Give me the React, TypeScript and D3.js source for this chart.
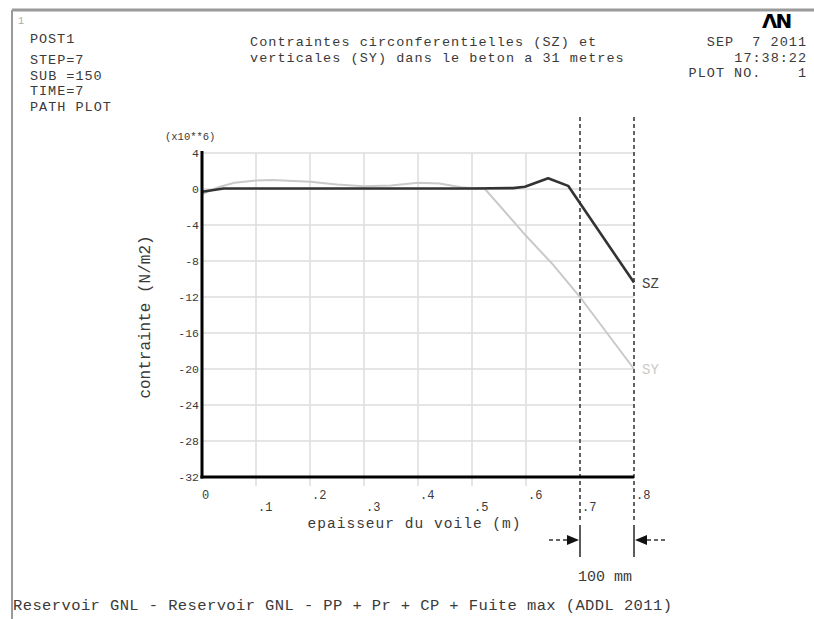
import React from "react";
import * as d3 from "d3";

const szX = [0, 0.04, 0.1, 0.2, 0.3, 0.4, 0.5, 0.576, 0.598, 0.641, 0.678, 0.8];
const szY = [-0.3, 0.05, 0.05, 0.05, 0.05, 0.05, 0.05, 0.1, 0.25, 1.2, 0.35, -10.4];
const syX = [0, 0.03, 0.06, 0.1, 0.13, 0.2, 0.25, 0.3, 0.35, 0.4, 0.44, 0.48, 0.524, 0.6, 0.65, 0.7, 0.8];
const syY = [-0.6, 0.2, 0.7, 0.95, 1.0, 0.8, 0.5, 0.3, 0.4, 0.7, 0.6, 0.2, 0, -5.2, -8.4, -12, -20];
const xTicks = [0, 0.1, 0.2, 0.3, 0.4, 0.5, 0.6, 0.7, 0.8];
const xTickLabels = ["0", ".1", ".2", ".3", ".4", ".5", ".6", ".7", ".8"];
const yTicks = [4, 0, -4, -8, -12, -16, -20, -24, -28, -32];
const headerLeft = ["POST1", "STEP=7", "SUB =150", "TIME=7", "PATH PLOT"];
const titleLines = ["Contraintes circonferentielles (SZ) et", "verticales (SY) dans le beton a 31 metres"];
const headerRight = ["SEP  7 2011", "17:38:22", "PLOT NO.    1"];
const markers = [0.7, 0.8];
const footer = "Reservoir GNL - Reservoir GNL - PP + Pr + CP + Fuite max (ADDL 2011)";

const FONT = "'Liberation Mono', 'Courier New', monospace";
const TXT = "#3a3a3a";
const CW = 9.15;

export default function App() {
  const x = d3.scaleLinear().domain([0, 0.8]).range([202, 634]);
  const y = d3.scaleLinear().domain([-32, 4]).range([477, 153]);
  const line = d3.line<[number, number]>().x((d) => x(d[0])).y((d) => y(d[1]));
  const sz: [number, number][] = szX.map((v, i) => [v, szY[i]]);
  const sy: [number, number][] = syX.map((v, i) => [v, syY[i]]);
  const leftHeaderY = [43, 64, 79.5, 95, 110.5];

  return (
    <svg width={814} height={619} style={{ position: "absolute", left: 0, top: 0, background: "#fff" }}>
      <rect x={0} y={0} width={814} height={619} fill="#fff" />
      {/* frame */}
      <line x1={12} y1={10} x2={814} y2={10} stroke="#9a9a9a" strokeWidth={3} />
      <line x1={12} y1={10} x2={12} y2={619} stroke="#9a9a9a" strokeWidth={2} />
      <text x={18} y={24} fontFamily={FONT} fontSize={10} fill="#aaa">1</text>

      {/* header left */}
      {headerLeft.map((t, i) => (
        <text key={t} x={30} y={leftHeaderY[i]} fontFamily={FONT} fontSize={13.5} fill={TXT}
          textLength={t.length * CW - 1.5} lengthAdjust="spacing" style={{ whiteSpace: "pre" }}>{t}</text>
      ))}
      {/* title */}
      {titleLines.map((t, i) => (
        <text key={t} x={250} y={46 + i * 15.5} fontFamily={FONT} fontSize={13.5} fill={TXT}
          textLength={t.length * CW - 1.5} lengthAdjust="spacing">{t}</text>
      ))}
      {/* header right */}
      {headerRight.map((t, i) => (
        <text key={t} x={806 - (t.length * CW - 1.5)} y={46 + i * 15.5} fontFamily={FONT} fontSize={13.5} fill={TXT}
          textLength={t.length * CW - 1.5} lengthAdjust="spacing" style={{ whiteSpace: "pre" }}>{t}</text>
      ))}
      <text x={762} y={28} fontFamily="'DejaVu Sans', sans-serif" fontWeight="bold" fontSize={20} fill="#000" letterSpacing={-2}>ΛN</text>

      {/* grid */}
      {yTicks.filter((t) => t !== -32).map((t) => (
        <line key={"h" + t} x1={x(0)} x2={x(0.8)} y1={y(t)} y2={y(t)} stroke="#dcdcdc" strokeWidth={1.5} />
      ))}
      {xTicks.filter((t) => t > 0 && t < 0.65).map((t) => (
        <line key={"v" + t} x1={x(t)} x2={x(t)} y1={y(4)} y2={y(-32) + 9} stroke="#dcdcdc" strokeWidth={1.5} />
      ))}

      {/* marker dashed lines */}
      {markers.map((m) => (
        <g key={"m" + m}>
          <line x1={x(m)} x2={x(m)} y1={117} y2={522} stroke="#222" strokeWidth={1.4} strokeDasharray="4,3" />
          <line x1={x(m)} x2={x(m)} y1={525} y2={557} stroke="#333" strokeWidth={1.6} />
        </g>
      ))}

      {/* curves */}
      <path d={line(sy) || ""} fill="none" stroke="#c9c9c9" strokeWidth={2} />
      <path d={line(sz) || ""} fill="none" stroke="#333" strokeWidth={2.6} strokeLinejoin="round" />

      {/* axes */}
      <line x1={x(0)} x2={x(0)} y1={y(4) - 2} y2={y(-32) + 1.5} stroke="#000" strokeWidth={3} />
      <line x1={x(0) - 1.5} x2={x(0.8)} y1={y(-32)} y2={y(-32)} stroke="#000" strokeWidth={3} />

      {/* y ticks */}
      {yTicks.map((t) => (
        <text key={"yl" + t} x={199} y={y(t) + 4} textAnchor="end" fontFamily={FONT} fontSize={11.5} fill={TXT}>{t}</text>
      ))}
      <text x={165} y={140} fontFamily={FONT} fontSize={10.5} fill={TXT}>(x10**6)</text>

      {/* x ticks */}
      {xTicks.map((t, i) => (
        <text key={"xl" + t} x={x(t) + (i === 0 ? 0 : 2)} y={i % 2 === 0 ? 499 : 511} fontFamily={FONT} fontSize={12} fill={TXT}>{xTickLabels[i]}</text>
      ))}

      {/* axis labels */}
      <text x={414} y={528} textAnchor="middle" fontFamily={FONT} fontSize={14.5} fill={TXT}
        textLength={213} lengthAdjust="spacing">epaisseur du voile (m)</text>
      <text transform="translate(150,317) rotate(-90)" textAnchor="middle" fontFamily={FONT} fontSize={16} fill={TXT}>contrainte (N/m2)</text>

      {/* series labels */}
      <text x={642} y={y(-10.4) + 5} fontFamily={FONT} fontSize={14} fill="#444">SZ</text>
      <text x={642} y={y(-20) + 5} fontFamily={FONT} fontSize={14} fill="#c9c9c9">SY</text>

      {/* dimension arrows */}
      <line x1={549} x2={567} y1={540} y2={540} stroke="#333" strokeWidth={1.3} strokeDasharray="4,3" />
      <path d={`M567,535 L${x(0.7) - 1},540 L567,545 Z`} fill="#111" />
      <line x1={647} x2={665} y1={540} y2={540} stroke="#333" strokeWidth={1.3} strokeDasharray="4,3" />
      <path d={`M647,535 L${x(0.8) + 1},540 L647,545 Z`} fill="#111" />
      <text x={605} y={581} textAnchor="middle" fontFamily={FONT} fontSize={15} fill={TXT}>100 mm</text>

      {/* footer */}
      <text x={13} y={610} fontFamily={FONT} fontSize={15.5} fill={TXT} textLength={659} lengthAdjust="spacing">{footer}</text>
    </svg>
  );
}
